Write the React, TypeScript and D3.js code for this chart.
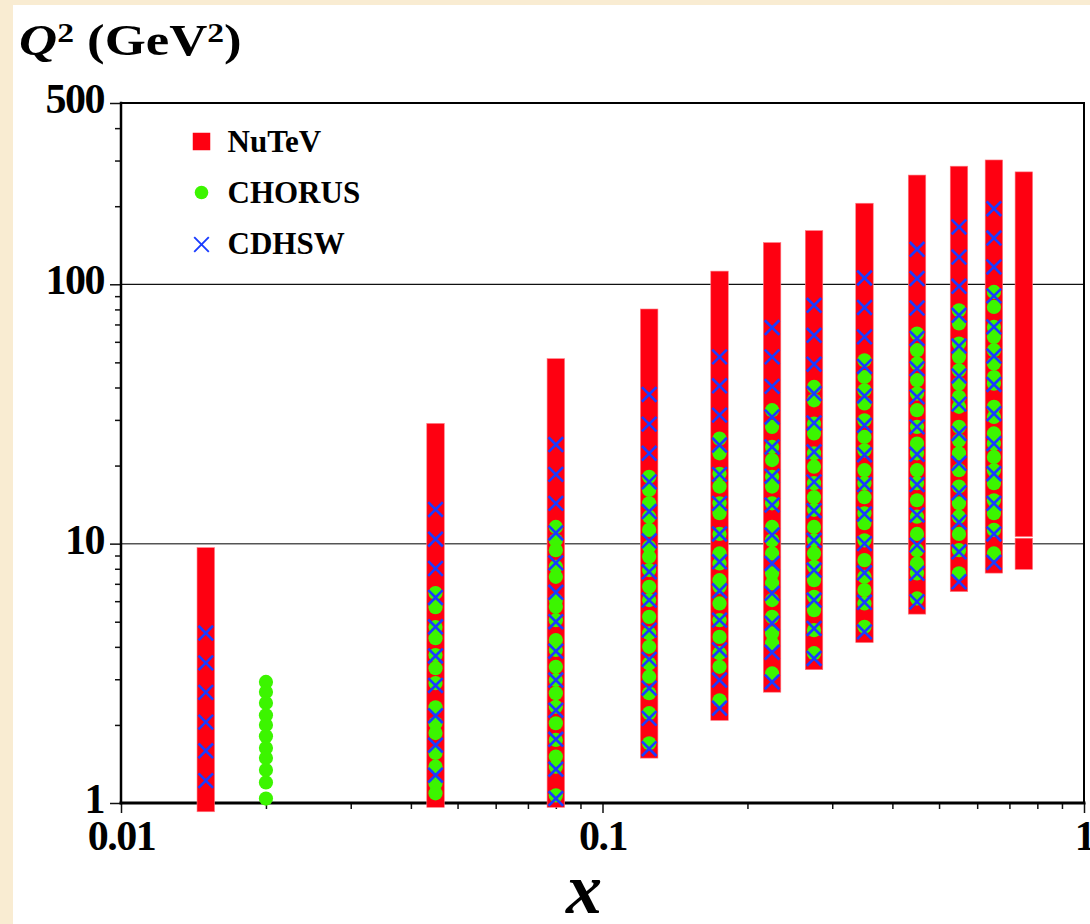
import * as d3 from 'd3';
import { useEffect, useRef } from 'react';

// NuTeV: each x bin is a dense column of squares, kept as lowest/highest Q2 point
const nutevX = [0.015, 0.045, 0.08, 0.125, 0.175, 0.225, 0.275, 0.35, 0.45, 0.55, 0.65, 0.75, 0.75];
const nutevQ2Lo = [1.0, 1.04, 1.04, 1.61, 2.25, 2.89, 3.53, 4.49, 5.78, 7.06, 8.32, 8.6, 11.5];
const nutevQ2Hi = [8.93, 26.9, 47.8, 74.3, 104, 134, 149, 190, 244, 264, 279, 9.71, 251];

// CHORUS
const chorusX = [0.02, 0.045, 0.08, 0.125, 0.175, 0.225, 0.275, 0.35, 0.45, 0.55, 0.65];
const chorusQ2 = [
    [2.93, 2.68, 2.43, 2.18, 2.0, 1.81, 1.63, 1.49, 1.34, 1.2, 1.04],
    [6.45, 5.69, 4.77, 4.32, 3.72, 3.31, 2.9, 2.34, 2.03, 1.86, 1.56, 1.38, 1.19, 1.09],
    [11.6, 10.3, 9.44, 8.14, 7.45, 6.06, 5.71, 5.07, 4.25, 3.89, 3.35, 2.98, 2.65, 2.35, 2.03, 1.75, 1.51, 1.38, 1.07],
    [18.1, 16.1, 14.3, 12.7, 11.3, 9.72, 8.9, 7.91, 6.82, 6.06, 5.22, 4.51, 4.0, 3.45, 3.07, 2.65, 2.22, 1.7],
    [25.4, 22.3, 18.6, 16.6, 14.3, 13.1, 10.9, 9.17, 8.39, 7.23, 6.82, 5.88, 5.07, 4.37, 3.78, 3.35, 2.49],
    [32.7, 28.2, 23.6, 21.0, 18.1, 16.6, 14.3, 11.6, 10.3, 9.17, 7.68, 7.03, 6.06, 5.22, 4.51, 4.13, 3.16],
    [40.2, 35.7, 29.0, 26.6, 22.3, 19.8, 17.1, 15.1, 13.5, 11.6, 10.3, 9.17, 8.14, 7.23, 6.24, 5.54, 4.64, 3.78],
    [50.9, 43.9, 39.0, 34.7, 29.9, 25.8, 22.9, 19.2, 17.1, 15.1, 13.1, 12.0, 10.3, 8.64, 7.45, 6.62, 5.88, 4.78],
    [64.6, 55.7, 49.5, 42.7, 37.9, 32.7, 28.2, 24.3, 22.3, 19.2, 17.1, 14.7, 12.7, 10.9, 9.44, 8.39, 7.68, 6.15],
    [79.4, 70.6, 59.1, 52.5, 46.6, 41.4, 36.8, 33.7, 28.2, 25.0, 22.3, 19.2, 16.6, 14.3, 12.7, 10.9, 9.44, 7.68],
    [93.4, 81.8, 68.5, 62.7, 55.7, 49.5, 43.9, 41.4, 33.7, 30.8, 26.6, 24.3, 21.6, 19.2, 17.1, 14.7, 13.1, 11.3, 9.17],
];

// CDHSW
const cdhswX = [0.015, 0.045, 0.08, 0.125, 0.175, 0.225, 0.275, 0.35, 0.45, 0.55, 0.65];
const cdhswQ2 = [
    [4.52, 3.47, 2.67, 2.05, 1.59, 1.22],
    [13.55, 10.4, 8.02, 6.2, 4.78, 3.69, 2.84, 2.17, 1.67, 1.28],
    [24.1, 18.5, 14.3, 11.0, 8.43, 6.49, 5.0, 3.85, 2.98, 2.28, 1.76, 1.35, 1.04],
    [37.6, 28.9, 22.3, 17.3, 13.3, 10.25, 7.79, 6.06, 4.64, 3.58, 2.77, 2.12, 1.62],
    [52.5, 40.6, 31.3, 24.0, 18.5, 14.3, 10.9, 8.51, 6.58, 5.07, 3.89, 2.98, 2.32],
    [68.1, 52.5, 40.4, 30.8, 23.6, 18.2, 14.1, 10.8, 8.39, 6.43, 4.93, 3.81, 2.93],
    [83.0, 63.6, 49.2, 37.9, 29.2, 22.6, 17.3, 13.4, 10.3, 7.91, 6.06, 4.71, 3.61],
    [105.8, 81.4, 62.7, 48.2, 37.1, 28.6, 22.0, 16.9, 13.0, 10.0, 7.72, 5.94, 4.57],
    [136.4, 105.2, 81.0, 61.8, 47.3, 36.8, 28.2, 22.1, 16.9, 12.9, 9.87, 7.68, 5.97],
    [166.3, 127.4, 98.2, 75.9, 57.8, 44.3, 34.5, 26.6, 20.4, 15.7, 12.1, 9.3, 7.13],
    [195.7, 150.8, 116.6, 90.2, 68.5, 52.9, 41.1, 31.7, 24.3, 18.6, 14.3, 10.9, 8.47],
];

const yTickValues = [1, 10, 100, 500];
const xTickValues = [0.01, 0.1, 1];
const xTickLabels = ['0.01', '0.1', '1'];
const legendLabels = ['NuTeV', 'CHORUS', 'CDHSW'];

const WIDTH = 1090;
const HEIGHT = 924;
const MARGIN = { left: 121, right: 6, top: 103, bottom: 121 };
const RED = '#fe0011';
const GREEN = '#3cf500';
const BLUE = '#1a3cff';
const SQUARE = 17.5;
const DOT_R = 7.1;
const CROSS = 7.3;
const FONT = '"Liberation Serif", "Times New Roman", serif';

const crossPath = (h: number) => `M${-h},${-h}L${h},${h}M${-h},${h}L${h},${-h}`;

export default function App() {
    const ref = useRef<SVGSVGElement>(null);

    useEffect(() => {
        if (!ref.current) return;
        const svg = d3.select(ref.current);
        svg.selectAll('*').remove();

        const x = d3.scaleLog().domain([0.01, 1]).range([MARGIN.left, WIDTH - MARGIN.right]);
        const y = d3.scaleLog().domain([1, 500]).range([HEIGHT - MARGIN.bottom, MARGIN.top]);
        const [x0, x1] = x.range();
        const [y0, y1] = y.range();

        // paper background
        svg.append('rect').attr('width', WIDTH).attr('height', HEIGHT).attr('fill', '#f9ecd2');
        svg.append('rect').attr('x', 13).attr('y', 5).attr('width', WIDTH - 13).attr('height', HEIGHT - 5).attr('fill', 'white');

        // grid lines
        svg.selectAll('.grid')
            .data([10, 100])
            .enter()
            .append('line')
            .attr('x1', x0).attr('x2', x1)
            .attr('y1', d => y(d)).attr('y2', d => y(d))
            .attr('stroke', d => d === 10 ? '#555' : '#111')
            .attr('stroke-width', d => d === 10 ? 1.5 : 1.2);

        // minor ticks
        const minorY = d3.range(1, 3).flatMap(e => d3.range(2, 10).map(m => m * 10 ** (e - 1)))
            .concat([200, 300, 400]);
        const minorX = d3.range(-2, 0).flatMap(e => d3.range(2, 10).map(m => m * 10 ** e));

        const axisStyle = (g: d3.Selection<SVGGElement, unknown, null, undefined>) => {
            g.select('.domain').remove();
            g.selectAll('line').attr('stroke', '#111').attr('stroke-width', 1.5);
            g.selectAll('text')
                .attr('font-family', FONT)
                .attr('font-weight', 'bold')
                .attr('font-size', 42)
                .attr('letter-spacing', -1.5)
                .attr('fill', 'black');
        };

        svg.append('g')
            .attr('transform', `translate(${x0},0)`)
            .call(d3.axisLeft(y).tickValues(minorY).tickSize(6).tickFormat(() => ''))
            .call(axisStyle);
        svg.append('g')
            .attr('transform', `translate(0,${y0})`)
            .call(d3.axisBottom(x).tickValues(minorX).tickSize(6).tickFormat(() => ''))
            .call(axisStyle);

        // major ticks with labels
        svg.append('g')
            .attr('transform', `translate(${x0},0)`)
            .call(d3.axisLeft(y).tickValues(yTickValues).tickSize(11).tickPadding(6).tickFormat(d => String(d)))
            .call(axisStyle)
            .selectAll('text').attr('dy', '0.23em');
        svg.append('g')
            .attr('transform', `translate(0,${y0})`)
            .call(d3.axisBottom(x).tickValues(xTickValues).tickSize(10).tickPadding(7)
                .tickFormat((_, i) => xTickLabels[i]))
            .call(axisStyle);

        // frame
        const frame = [
            { x1: x0, y1: y0, x2: x1, y2: y0, w: 3 },
            { x1: x0, y1: y0, x2: x0, y2: y1, w: 2.5 },
            { x1: x0, y1: y1, x2: x1, y2: y1, w: 2 },
            { x1: x1, y1: y1, x2: x1, y2: y0, w: 2 },
        ];
        svg.selectAll('.frame')
            .data(frame)
            .enter()
            .append('line')
            .attr('x1', d => d.x1).attr('y1', d => d.y1)
            .attr('x2', d => d.x2).attr('y2', d => d.y2)
            .attr('stroke', 'black')
            .attr('stroke-width', d => d.w)
            .attr('stroke-linecap', 'square');

        // NuTeV columns
        svg.selectAll('.nutev')
            .data(nutevX)
            .enter()
            .append('rect')
            .attr('x', d => x(d) - SQUARE / 2)
            .attr('y', (_, i) => y(nutevQ2Hi[i]) - SQUARE / 2)
            .attr('width', SQUARE)
            .attr('height', (_, i) => y(nutevQ2Lo[i]) - y(nutevQ2Hi[i]) + SQUARE)
            .attr('fill', RED)
            .attr('stroke', '#ff7b84')
            .attr('stroke-width', 0.6);

        // CHORUS dots
        const chorusPts = chorusX.flatMap((xv, i) => chorusQ2[i].map(q => ({ x: xv, q })));
        svg.selectAll('.chorus')
            .data(chorusPts)
            .enter()
            .append('circle')
            .attr('cx', d => x(d.x))
            .attr('cy', d => y(d.q))
            .attr('r', DOT_R)
            .attr('fill', GREEN);

        // CDHSW crosses
        const cdhswPts = cdhswX.flatMap((xv, i) => cdhswQ2[i].map(q => ({ x: xv, q })));
        svg.selectAll('.cdhsw')
            .data(cdhswPts)
            .enter()
            .append('path')
            .attr('transform', d => `translate(${x(d.x)},${y(d.q)})`)
            .attr('d', crossPath(CROSS))
            .attr('stroke', BLUE)
            .attr('stroke-width', 2.6)
            .attr('fill', 'none');

        // legend
        const legend = svg.append('g').attr('transform', 'translate(201.5,141.5)');
        legend.append('rect')
            .attr('x', -SQUARE / 2).attr('y', -SQUARE / 2)
            .attr('width', SQUARE).attr('height', SQUARE)
            .attr('fill', RED);
        legend.append('circle').attr('cx', 0).attr('cy', 51).attr('r', 6.8).attr('fill', GREEN);
        legend.append('path')
            .attr('transform', 'translate(0,103)')
            .attr('d', crossPath(7.3))
            .attr('stroke', BLUE).attr('stroke-width', 1.9).attr('fill', 'none');
        legend.selectAll('text')
            .data(legendLabels)
            .enter()
            .append('text')
            .attr('x', 26)
            .attr('y', (_, i) => i * 51.3 + 10)
            .attr('font-family', FONT)
            .attr('font-weight', 'bold')
            .attr('font-size', 31)
            .text(d => d);

        // y axis title
        const title = svg.append('g').attr('transform', 'translate(19,55) scale(1.2,1)')
            .append('text')
            .attr('font-family', FONT)
            .attr('font-weight', 'bold')
            .attr('font-size', 44);
        title.append('tspan').attr('font-style', 'italic').text('Q');
        title.append('tspan').attr('font-size', 28).attr('dy', -13).text('2');
        title.append('tspan').attr('dy', 13).text(' (GeV');
        title.append('tspan').attr('font-size', 28).attr('dy', -13).text('2');
        title.append('tspan').attr('dy', 13).text(')');

        // x axis title
        svg.append('text')
            .attr('x', 584)
            .attr('y', 913)
            .attr('text-anchor', 'middle')
            .attr('font-family', FONT)
            .attr('font-weight', 'bold')
            .attr('font-style', 'italic')
            .attr('font-size', 72)
            .text('x');
    }, []);

    return (
        <svg ref={ref} width={WIDTH} height={HEIGHT}
            style={{ position: 'absolute', left: 0, top: 0, display: 'block' }}></svg>
    );
}
